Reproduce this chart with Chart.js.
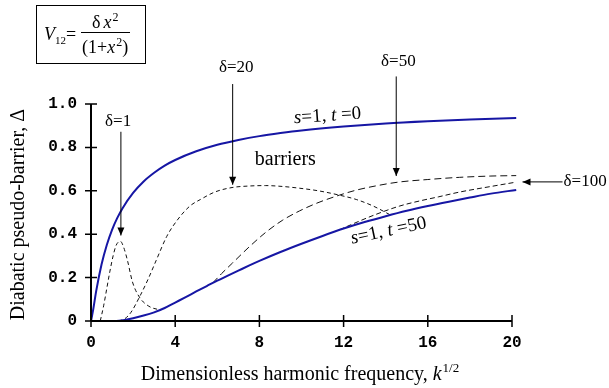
<!DOCTYPE html>
<html>
<head>
<meta charset="utf-8">
<script src="https://cdn.jsdelivr.net/npm/chart.js@4/dist/chart.umd.min.js"></script>
<style>
  html, body { margin: 0; padding: 0; background: #fff; }
  #wrap { width: 609px; height: 388px; position: relative; }
</style>
</head>
<body>
<div id="wrap"><canvas id="c" width="609" height="388"></canvas></div>
<script>
// Adiabatic limits (solid) and diabatic barriers for several coupling strengths (dashed)
const t0X   = [0, 0.1, 0.25, 0.5, 0.75, 1, 1.25, 1.5, 2, 2.5, 3, 3.5, 4, 5, 6, 7, 8, 9, 10, 12, 14, 16, 18, 20.2];
const t0Y   = [0, 0.05, 0.14, 0.26, 0.35, 0.42, 0.475, 0.52, 0.59, 0.643, 0.683, 0.716, 0.742, 0.782, 0.812, 0.834, 0.852, 0.866, 0.878, 0.896, 0.91, 0.92, 0.928, 0.935];

const t50X  = [0, 1.2, 1.6, 2, 2.5, 3, 3.5, 4, 4.5, 5, 5.5, 6, 6.5, 7, 7.5, 8, 9, 10, 11, 12, 13, 14, 15, 16, 17, 18, 19, 20.2];
const t50Y  = [0, 0, 0.005, 0.013, 0.025, 0.04, 0.06, 0.085, 0.11, 0.136, 0.161, 0.186, 0.209, 0.232, 0.255, 0.277, 0.318, 0.356, 0.392, 0.426, 0.456, 0.483, 0.508, 0.53, 0.55, 0.569, 0.587, 0.604];

const d1X   = [0.44, 0.6, 0.75, 0.9, 1.05, 1.2, 1.4, 1.55, 1.73, 1.97, 2.3, 2.75, 3.3];
const d1Y   = [0, 0.07, 0.15, 0.23, 0.3, 0.35, 0.367, 0.34, 0.28, 0.18, 0.11, 0.068, 0.05];

const d20X  = [1.3, 1.6, 1.9, 2.3, 2.7, 3.1, 3.6, 4.1, 4.7, 5.2, 5.9, 6.7, 7.5, 8.3, 9.1, 9.9, 10.8, 11.8, 12.6, 13.4, 14.2];
const d20Y  = [0, 0.01, 0.04, 0.11, 0.19, 0.28, 0.39, 0.465, 0.53, 0.56, 0.595, 0.615, 0.622, 0.624, 0.62, 0.612, 0.6, 0.58, 0.56, 0.53, 0.49];

const d50X  = [5.78, 6.2, 6.73, 7.52, 8.32, 9.11, 9.9, 10.7, 11.8, 12.6, 13.5, 14.6, 16, 17.5, 19, 20.2];
const d50Y  = [0.175, 0.218, 0.268, 0.342, 0.41, 0.465, 0.507, 0.542, 0.58, 0.603, 0.622, 0.64, 0.652, 0.662, 0.668, 0.67];

const d100X = [11.8, 12.5, 13.5, 14.67, 15.6, 16.5, 17.5, 19, 20.2];
const d100Y = [0.42, 0.45, 0.49, 0.53, 0.553, 0.572, 0.594, 0.62, 0.64];

const xTickValues = [0, 4, 8, 12, 16, 20];
const yTickValues = [0, 0.2, 0.4, 0.6, 0.8, 1.0];
const yTickLabels = ['0', '0.2', '0.4', '0.6', '0.8', '1.0'];

// Callout arrows (data units): label position, arrow start and tip
const arrowNotes = [
  { text: 'δ=1',   lx: 1.29,  ly: 0.917, x0: 1.42, y0: 0.872, x1: 1.42, y1: 0.394 },
  { text: 'δ=20',  lx: 6.9,   ly: 1.168, x0: 6.73, y0: 1.092, x1: 6.73, y1: 0.628 },
  { text: 'δ=50',  lx: 14.6,  ly: 1.197, x0: 14.5, y0: 1.127, x1: 14.5, y1: 0.668 },
  { text: 'δ=100', lx: 22.45, ly: 0.641, x0: 22.4, y0: 0.641, x1: 20.5, y1: 0.641, align: 'left' }
];

// Curve captions: runs of [text, italic]
const captions = [
  { runs: [['s', true], ['=1, ', false], ['t', true], [' =0', false]],  x: 11.24, y: 0.945, rot: -4,  size: 19 },
  { runs: [['barriers', false]],                                         x: 9.23,  y: 0.742, rot: 0,   size: 20 },
  { runs: [['s', true], ['=1, ', false], ['t', true], [' =50', false]], x: 14.14, y: 0.415, rot: -12, size: 19 }
];

const SERIF = '"Liberation Serif", "Times New Roman", serif';
const MONO = '"Liberation Mono", "Courier New", monospace';
const BLUE = '#1616a4';

function pts(xs, ys) { return xs.map((x, i) => ({ x: x, y: ys[i] })); }

function serif(size, italic) { return (italic ? 'italic ' : '') + size + 'px ' + SERIF; }

function drawRuns(ctx, runs, size) {
  let w = 0;
  runs.forEach(r => { ctx.font = serif(size, r[1]); w += ctx.measureText(r[0]).width; });
  let x = -w / 2;
  runs.forEach(r => {
    ctx.font = serif(size, r[1]);
    ctx.fillText(r[0], x, 0);
    x += ctx.measureText(r[0]).width;
  });
}

function arrowHead(ctx, x0, y0, x1, y1) {
  const a = Math.atan2(y1 - y0, x1 - x0), L = 8, H = 3.5;
  ctx.beginPath();
  ctx.moveTo(x1, y1);
  ctx.lineTo(x1 - L * Math.cos(a) + H * Math.sin(a), y1 - L * Math.sin(a) - H * Math.cos(a));
  ctx.lineTo(x1 - L * Math.cos(a) - H * Math.sin(a), y1 - L * Math.sin(a) + H * Math.cos(a));
  ctx.closePath();
  ctx.fill();
}

// draws a sequence of [text, size, italic, dy] pieces starting at x, returns end x
function drawPieces(ctx, x, baseY, pieces) {
  pieces.forEach(p => {
    ctx.font = serif(p[1], p[2]);
    ctx.fillText(p[0], x, baseY + (p[3] || 0));
    x += ctx.measureText(p[0]).width + (p[4] || 0);
  });
  return x;
}

const decorations = {
  id: 'decorations',
  afterDraw(chart) {
    const ctx = chart.ctx, xs = chart.scales.x, ys = chart.scales.y;
    const area = chart.chartArea;
    ctx.save();
    ctx.fillStyle = '#000';
    ctx.strokeStyle = '#000';

    // axis lines with ticks crossing them
    ctx.lineWidth = 2;
    ctx.beginPath();
    ctx.moveTo(area.left, area.top); ctx.lineTo(area.left, area.bottom);
    ctx.moveTo(area.left, area.bottom); ctx.lineTo(area.right, area.bottom);
    ctx.stroke();
    ctx.lineWidth = 1.5;
    ctx.beginPath();
    xTickValues.forEach(v => { const p = xs.getPixelForValue(v); ctx.moveTo(p, area.bottom - 6); ctx.lineTo(p, area.bottom + 6); });
    yTickValues.forEach(v => { const p = ys.getPixelForValue(v); ctx.moveTo(area.left - 6, p); ctx.lineTo(area.left + 6, p); });
    ctx.stroke();

    // axis titles
    ctx.textBaseline = 'alphabetic';
    ctx.textAlign = 'center';
    ctx.save();
    ctx.translate(24, (area.top + area.bottom) / 2 + 2);
    ctx.rotate(-Math.PI / 2);
    ctx.font = serif(20, false);
    ctx.fillText('Diabatic pseudo-barrier, Δ', 0, 0);
    ctx.restore();

    const main = 'Dimensionless harmonic frequency, ';
    ctx.font = serif(20, false); const w1 = ctx.measureText(main).width;
    ctx.font = serif(20, true);  const w2 = ctx.measureText('k').width;
    ctx.font = serif(13, false); const w3 = ctx.measureText('1/2').width;
    let tx = (area.left + area.right) / 2 - 2 - (w1 + w2 + w3) / 2;
    const ty = 380;
    ctx.textAlign = 'left';
    ctx.font = serif(20, false); ctx.fillText(main, tx, ty); tx += w1;
    ctx.font = serif(20, true);  ctx.fillText('k', tx, ty); tx += w2 + 1;
    ctx.font = serif(13, false); ctx.fillText('1/2', tx, ty - 8);

    // callout arrows
    ctx.lineWidth = 1;
    ctx.textBaseline = 'middle';
    arrowNotes.forEach(n => {
      const px0 = xs.getPixelForValue(n.x0), py0 = ys.getPixelForValue(n.y0);
      const px1 = xs.getPixelForValue(n.x1), py1 = ys.getPixelForValue(n.y1);
      ctx.beginPath(); ctx.moveTo(px0, py0); ctx.lineTo(px1, py1); ctx.stroke();
      arrowHead(ctx, px0, py0, px1, py1);
      ctx.font = serif(17, false);
      ctx.textAlign = n.align || 'center';
      ctx.fillText(n.text, xs.getPixelForValue(n.lx), ys.getPixelForValue(n.ly));
    });

    // curve captions
    ctx.textAlign = 'left';
    captions.forEach(c => {
      ctx.save();
      ctx.translate(xs.getPixelForValue(c.x), ys.getPixelForValue(c.y));
      ctx.rotate(c.rot * Math.PI / 180);
      drawRuns(ctx, c.runs, c.size);
      ctx.restore();
    });

    // coupling formula in a box
    ctx.lineWidth = 1;
    ctx.strokeRect(36.5, 5.5, 109, 58);
    ctx.textBaseline = 'alphabetic';
    ctx.textAlign = 'left';
    drawPieces(ctx, 44, 40, [['V', 18, true, 0, 0], ['12', 11, false, 4, 0], ['=', 18, false, 0, 0]]);
    ctx.beginPath(); ctx.moveTo(81, 32.5); ctx.lineTo(130, 32.5); ctx.stroke();
    drawPieces(ctx, 92, 28, [['δ', 18, false, 0, 3], ['x', 18, true, 0, 1], ['2', 12, false, -7, 0]]);
    drawPieces(ctx, 82, 53, [['(1+', 18, false, 0, 0], ['x', 18, true, 0, 1], ['2', 12, false, -7, 0], [')', 18, false, 0, 0]]);

    ctx.restore();
  }
};

const solid = (data) => ({ data, borderColor: BLUE, borderWidth: 2, pointRadius: 0, cubicInterpolationMode: 'monotone', clip: false });
const dashed = (data, dash) => ({ data, borderColor: '#111', borderWidth: 1, borderDash: dash, pointRadius: 0, cubicInterpolationMode: 'monotone', clip: false });

new Chart(document.getElementById('c'), {
  type: 'line',
  data: {
    datasets: [
      solid(pts(t0X, t0Y)),
      solid(pts(t50X, t50Y)),
      dashed(pts(d1X, d1Y), [4, 3]),
      dashed(pts(d20X, d20Y), [4, 3]),
      dashed(pts(d50X, d50Y), [7, 4]),
      dashed(pts(d100X, d100Y), [5, 3])
    ]
  },
  options: {
    responsive: false,
    animation: false,
    layout: { padding: { left: 0, top: 104, right: 97, bottom: 0 } },
    plugins: { legend: { display: false }, tooltip: { enabled: false } },
    scales: {
      x: {
        type: 'linear', min: 0, max: 20,
        afterFit: s => { s.height = 67; },
        afterBuildTicks: s => { s.ticks = xTickValues.map(v => ({ value: v })); },
        grid: { display: false, drawTicks: false },
        border: { display: false },
        ticks: { padding: 12, color: '#000', font: { family: MONO, size: 16, weight: 'bold' }, maxRotation: 0,
                 callback: v => String(v) }
      },
      y: {
        type: 'linear', min: 0, max: 1,
        afterFit: s => { s.width = 91; },
        afterBuildTicks: s => { s.ticks = yTickValues.map(v => ({ value: v })); },
        grid: { display: false, drawTicks: false },
        border: { display: false },
        ticks: { padding: 14, color: '#000', font: { family: MONO, size: 16, weight: 'bold' },
                 callback: (v) => yTickLabels[yTickValues.indexOf(v)] }
      }
    }
  },
  plugins: [decorations]
});
</script>
</body>
</html>
